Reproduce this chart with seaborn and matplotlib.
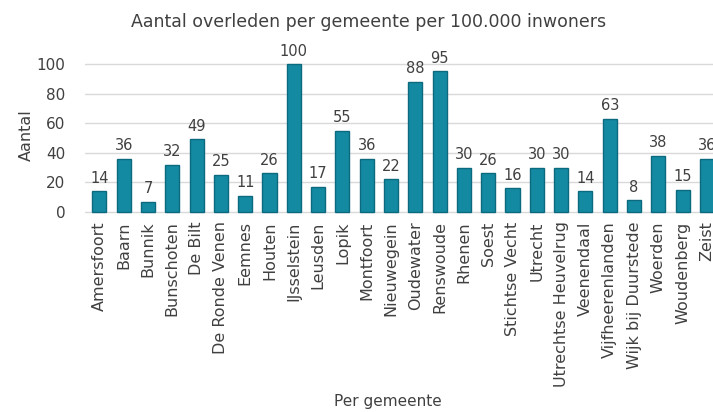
import matplotlib
matplotlib.use("Agg")
import matplotlib.pyplot as plt
import seaborn as sns
import pandas as pd

gemeenten = ["Amersfoort", "Baarn", "Bunnik", "Bunschoten", "De Bilt", "De Ronde Venen",
             "Eemnes", "Houten", "IJsselstein", "Leusden", "Lopik", "Montfoort", "Nieuwegein",
             "Oudewater", "Renswoude", "Rhenen", "Soest", "Stichtse Vecht", "Utrecht",
             "Utrechtse Heuvelrug", "Veenendaal", "Vijfheerenlanden", "Wijk bij Duurstede",
             "Woerden", "Woudenberg", "Zeist"]
aantal = [14, 36, 7, 32, 49, 25, 11, 26, 100, 17, 55, 36, 22, 88, 95, 30, 26, 16, 30, 30,
          14, 63, 8, 38, 15, 36]
yticks = [0, 20, 40, 60, 80, 100]

df = pd.DataFrame({"Gemeente": gemeenten, "Aantal": aantal})

sns.set_theme(style="white")
plt.rcParams['font.family'] = ['DejaVu Sans']
txt = "#404040"

fig = plt.figure(figsize=(7.13, 4.12), dpi=100)
ax = fig.add_axes([0.119, 0.476, 0.881, 0.39])

sns.barplot(data=df, x="Gemeente", y="Aantal", color="#138aa2", width=0.58,
            edgecolor="#0b6a7e", linewidth=1.0, saturation=1, ax=ax)

for c in ax.containers:
    ax.bar_label(c, labels=[str(v) for v in aantal], padding=4, fontsize=10.5, color=txt)

ax.set_xlim(-0.6, 25.25)
ax.set_ylim(-2.7, 106)
ax.set_yticks(yticks)
ax.yaxis.grid(True, color="#d9d9d9", linewidth=1)
ax.set_axisbelow(True)
for s in ax.spines.values():
    s.set_visible(False)
ax.tick_params(axis="y", labelsize=11, labelcolor=txt, length=0, pad=14)
ax.tick_params(axis="x", labelsize=11.5, labelcolor=txt, length=0, pad=4, rotation=90)
ax.set_ylabel("Aantal", fontsize=11.5, color=txt, labelpad=2)
ax.set_xlabel("Per gemeente", fontsize=11, color=txt, labelpad=0, va="center")
ax.xaxis.set_label_coords((388 - 85) / 628, -(402 - 216) / 161)
ax.set_title("Aantal overleden per gemeente per 100.000 inwoners", fontsize=12.5,
             color=txt, pad=20, x=(369 - 85) / 628)

fig.savefig("out.png", dpi=100)
